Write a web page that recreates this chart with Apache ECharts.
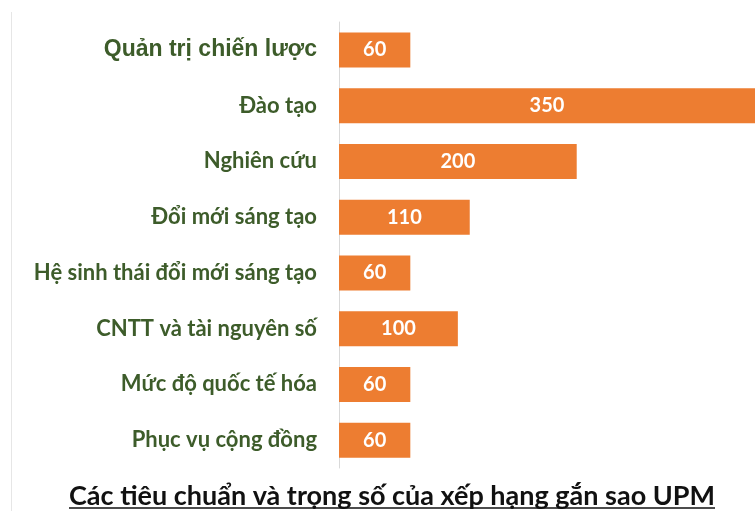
<!DOCTYPE html>
<html><head><meta charset="utf-8">
<script src="https://cdn.jsdelivr.net/npm/echarts@6/dist/echarts.min.js"></script>
<style>html,body{margin:0;padding:0;background:#fff}#c{width:755px;height:511px}</style>
</head><body><div id="c"></div>
<script>
const categories = ["Quản trị chiến lược","Đào tạo","Nghiên cứu","Đổi mới sáng tạo","Hệ sinh thái đổi mới sáng tạo","CNTT và tài nguyên số","Mức độ quốc tế hóa","Phục vụ cộng đồng"];
const weights = [60,350,200,110,60,100,60,60];
const titleText = "Các tiêu chuẩn và trọng số của xếp hạng gắn sao UPM";

const chart = echarts.init(document.getElementById('c'));
const titleFont = 'bold 27px Lato';
const cv = document.createElement('canvas').getContext('2d');
cv.font = titleFont;
const tw = cv.measureText(titleText).width;
const cx = 392;
chart.setOption({
  animation:false,
  backgroundColor:'#fff',
  grid:{left:339, right:-1, top:22, bottom:43, containLabel:false},
  xAxis:{type:'value', min:0, max:350, show:false},
  yAxis:{type:'category', data:categories, inverse:true,
    axisLine:{show:true, lineStyle:{color:'#d9d9d9', width:1}},
    axisTick:{show:false},
    axisLabel:{margin:22, color:'#3d5c2a', fontFamily:'Lato', fontWeight:'bold', fontSize:22,
      formatter:function(v,i){ return i===0 ? '{a|'+v+'}' : v; },
      rich:{a:{fontFamily:'Liberation Sans', fontWeight:'bold', fontSize:23, color:'#3d5c2a'}}}
  },
  series:[{type:'bar', data:weights, barWidth:35,
    itemStyle:{color:'#ED7D31'},
    label:{show:true, position:'inside', color:'#fff', fontFamily:'Lato', fontWeight:'bold', fontSize:20}
  }],
  graphic:[
    {type:'line', shape:{x1:11.5,y1:12,x2:11.5,y2:511}, style:{stroke:'#e6e6e6', lineWidth:1}},
    {type:'text', x:cx, y:496, style:{text:titleText, font:titleFont, fill:'#111', align:'center', verticalAlign:'middle'}},
    {type:'line', shape:{x1:cx-tw/2, y1:508, x2:cx+tw/2, y2:508}, style:{stroke:'#111', lineWidth:1.5}}
  ]
});
</script></body></html>
